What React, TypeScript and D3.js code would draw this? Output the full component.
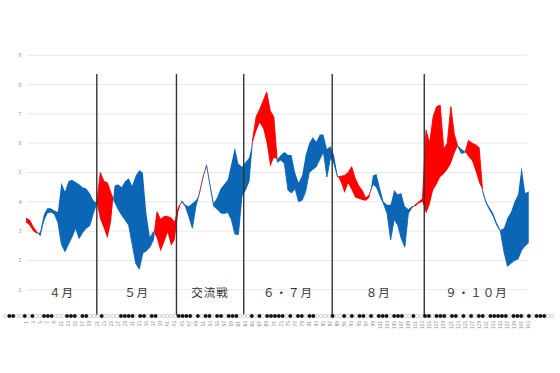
import React from 'react';
import * as d3 from 'd3';

// 得点・失点の推移（試合ごと）
const scored = [
  3.3, 3.2, 3.0, 2.92, 2.96, 3.55, 3.78, 3.78, 3.7, 3.65,
  4.65, 4.35, 4.7, 4.75, 4.68, 4.6, 4.5, 4.45, 4.3, 4.05,
  3.95, 3.4, 3.1, 2.75, 3.3, 4.55, 4.6, 4.5, 4.7, 4.8,
  4.55, 4.9, 5.08, 5.0, 3.6, 2.8, 3.0, 2.75, 2.3, 2.6,
  2.95, 2.5, 2.7, 3.65, 4.05, 3.9, 3.85, 3.95, 4.05, 4.25,
  4.8, 5.3, 4.6, 3.95, 4.15, 4.45, 4.6, 4.75, 5.3, 5.85,
  5.3, 5.2, 5.35, 5.5, 6.0, 6.4, 6.7, 6.5, 6.0, 5.2,
  5.5, 5.45, 5.6, 5.7, 5.6, 5.6, 5.0, 4.65, 4.9, 5.6,
  6.0, 6.2, 6.05, 6.3, 6.3, 5.8, 5.9, 5.6, 4.9, 4.65,
  4.3, 4.63, 4.4, 4.15, 4.1, 4.06, 4.04, 4.15, 4.9, 4.95,
  4.46, 4.0, 3.9, 3.9, 4.4, 4.25, 4.3, 3.85, 3.75, 3.85,
  3.85, 3.95, 4.0, 3.6, 3.9, 4.4, 4.6, 4.85, 4.95, 5.1,
  5.3, 5.65, 5.92, 5.8, 5.72, 5.55, 5.4, 5.05, 4.65, 4.4,
  4.0, 3.8, 3.6, 3.28, 3.04, 3.1, 3.45, 3.65, 4.0, 4.25,
  5.2, 4.3, 4.35,
];

const allowed = [
  3.44, 3.38, 3.15, 2.98, 2.85, 3.35, 3.62, 3.65, 3.58, 3.3,
  2.55, 2.3, 2.55, 2.8, 3.1, 2.75, 2.95, 3.1, 3.18, 3.6,
  3.95, 5.0, 4.7, 4.65, 4.3, 4.0, 3.75, 3.55, 3.38, 3.2,
  2.55, 1.9, 1.7, 2.25, 2.32, 2.45, 2.7, 3.66, 3.4, 3.5,
  3.5, 3.45, 3.3, 3.8, 4.0, 3.85, 3.5, 3.1, 3.85, 4.3,
  4.85, 5.25, 4.55, 3.85, 3.75, 3.62, 3.6, 3.64, 3.4, 2.9,
  2.88, 4.2, 4.4, 4.7, 6.1, 6.9, 7.15, 7.45, 7.75, 7.1,
  6.9, 5.35, 5.43, 5.3, 4.4, 4.3, 4.45, 4.0, 4.05, 4.35,
  5.0, 5.1, 5.2, 5.45, 5.7, 4.85, 5.5, 5.3, 4.85, 4.87,
  4.9, 5.0, 5.2, 4.8, 4.55, 4.38, 4.12, 4.25, 4.6, 4.5,
  4.2, 3.93, 3.6, 2.7, 3.4, 3.2, 2.75, 2.45, 3.6, 3.8,
  3.9, 4.0, 4.1, 6.45, 6.0, 6.9, 7.25, 7.3, 5.8, 6.0,
  7.25, 6.3, 5.88, 5.65, 5.68, 6.1, 6.0, 5.95, 5.85, 4.35,
  3.95, 3.72, 3.5, 3.2, 3.0, 2.3, 1.8, 1.9, 2.0, 2.05,
  2.35, 2.5, 2.6,
];

// ●=x ○=o
const results =
  'oxxooxoxooxxxoooxxxoxxoooxooooxxxxoxxoxxoooooxxx' +
  'xoxoxxoxxoxxxoooxoxoxxxxxoxoxxoxxooooxooxoxoxxox' +
  'oxxxoxxxooxooxxoxxxoxxoxoxoxxoxxxxxoxxxoxoxxxoo';

const months = ['４月', '５月', '交流戦', '６・７月', '８月', '９・１０月'];
const monthBreaks = [21, 43.5, 62.5, 87.5, 113.5];
const yTicks = [1, 2, 3, 4, 5, 6, 7, 8, 9];

const games = scored.map((_, i) => i + 1);
const gameTicks = games.filter(g => g % 2 === 1);

const W = 560;
const H = 373;
const RED = '#ff0000';
const BLUE = '#0b66b5';

export default function App() {
  const x = d3.scaleLinear().domain([1, games.length]).range([26, 528.7]);
  const y = d3.scaleLinear().domain([0, 9]).range([319, 55.3]);
  const cx = d3.scaleLinear().domain([1, results.length]).range([5.5, 552]);

  const aboveScored = d3.area<number>().x(g => x(g)).y0(0).y1(g => y(scored[g - 1]));
  const belowScored = d3.area<number>().x(g => x(g)).y0(H).y1(g => y(scored[g - 1]));
  const underAllowed = d3.area<number>().x(g => x(g)).y0(H).y1(g => y(allowed[g - 1]));
  const overAllowed = d3.area<number>().x(g => x(g)).y0(0).y1(g => y(allowed[g - 1]));

  const edges = [1, ...monthBreaks, games.length];

  return (
    <svg width={W} height={H} style={{ position: 'absolute', left: 0, top: 0, background: '#fff' }}
      fontFamily="'Noto Sans CJK JP', 'Noto Sans', sans-serif">
      <defs>
        <clipPath id="clip-above"><path d={aboveScored(games) || ''} /></clipPath>
        <clipPath id="clip-below"><path d={belowScored(games) || ''} /></clipPath>
      </defs>

      {yTicks.map(t => (
        <g key={t}>
          <line x1={27} x2={527} y1={y(t)} y2={y(t)} stroke="#e9e9e9" strokeWidth={1} />
          <text x={20} y={y(t)} dy="0.35em" fontSize={5.5} fill="#999" textAnchor="middle">{t}</text>
        </g>
      ))}

      <path d={underAllowed(games) || ''} clipPath="url(#clip-above)" fill={RED}
        stroke={RED} strokeWidth={0.9} strokeLinejoin="round" />
      <path d={overAllowed(games) || ''} clipPath="url(#clip-below)" fill={BLUE}
        stroke={BLUE} strokeWidth={0.9} strokeLinejoin="round" />

      {monthBreaks.map(b => (
        <line key={b} x1={x(b)} x2={x(b)} y1={74} y2={316} stroke="#333" strokeWidth={1.4} />
      ))}

      {months.map((m, i) => (
        <text key={m} x={(x(edges[i]) + x(edges[i + 1])) / 2} y={297} fontSize={11.5}
          fill="#333" textAnchor="middle" letterSpacing={1}>{m}</text>
      ))}

      {results.split('').map((r, i) => (
        <circle key={i} cx={cx(i + 1)} cy={316} r={1.75}
          fill={r === 'x' ? '#111' : '#fff'} stroke={r === 'x' ? '#111' : '#aaa'} strokeWidth={0.5} />
      ))}

      {gameTicks.map(g => (
        <text key={g} transform={`translate(${x(g)},321) rotate(-90)`} fontSize={5} fill="#888"
          textAnchor="end" dy="0.35em">{g}</text>
      ))}
    </svg>
  );
}
